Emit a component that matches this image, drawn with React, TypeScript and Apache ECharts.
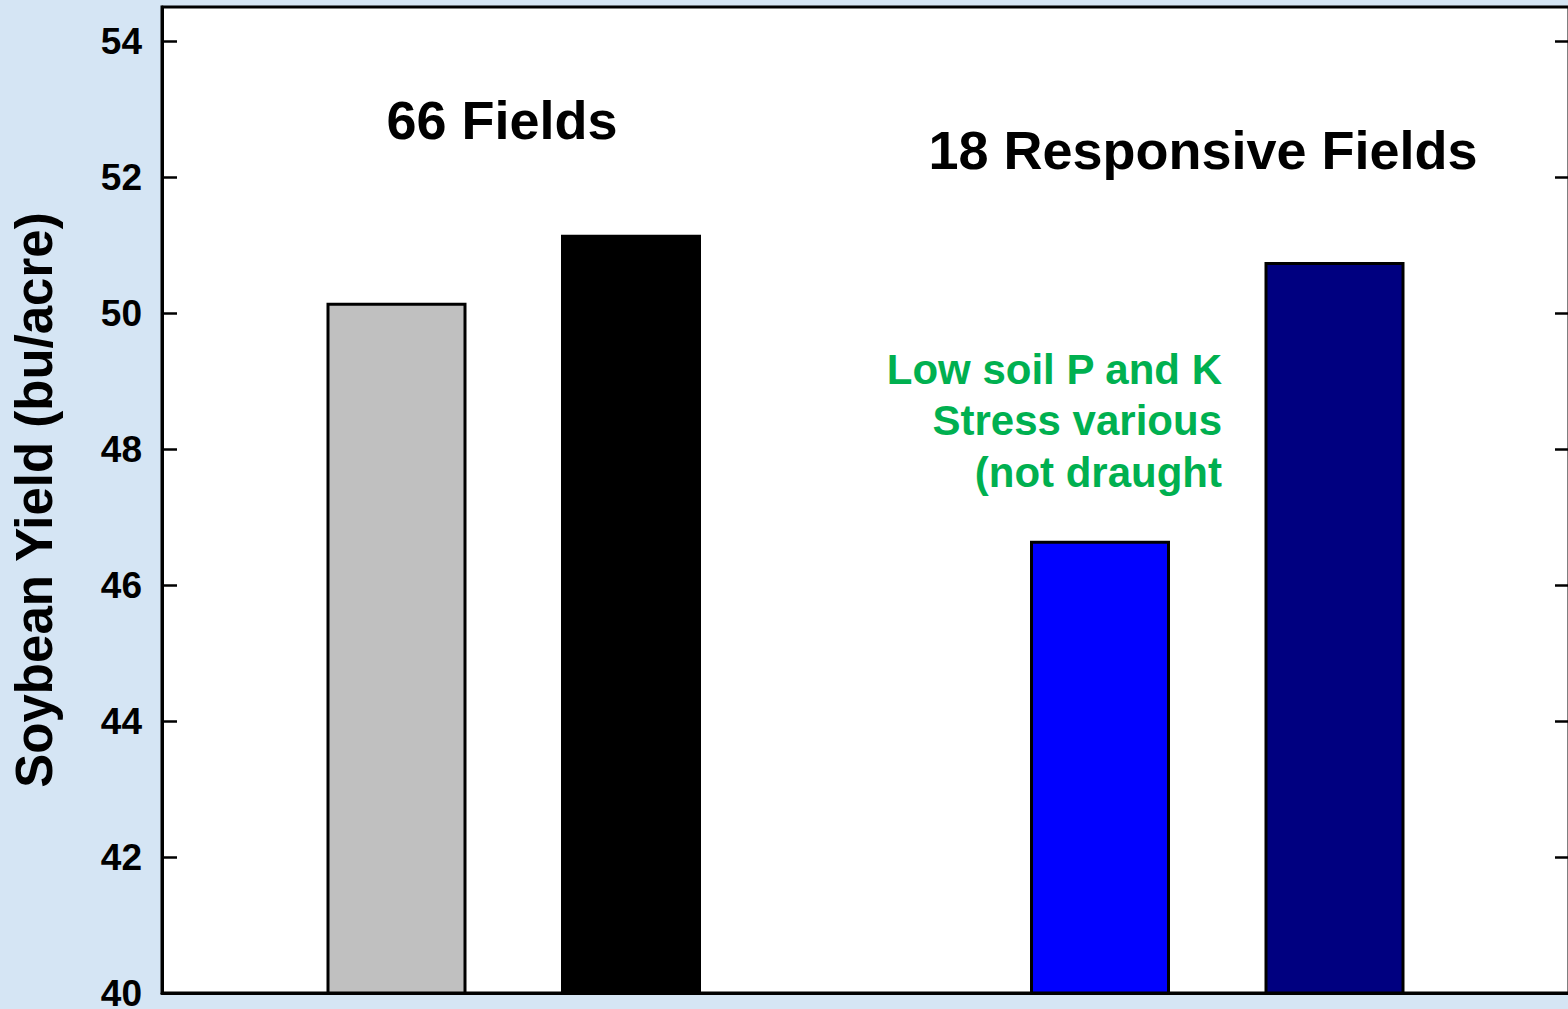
import React, { useEffect, useRef } from "react";
import * as echarts from "echarts";

const barPositions = [1, 2, 4, 5];
const barValues = [50.15, 51.15, 46.65, 50.75];
const barColors = ["#c0c0c0", "#000000", "#0000ff", "#000080"];
const yTicks = [40, 42, 44, 46, 48, 50, 52, 54];
const yAxisName = "Soybean Yield (bu/acre)";
const groupLabels = ["66 Fields", "18 Responsive Fields"];
const noteLines = ["Low soil P and K", "Stress various", "(not draught"];

const FONT = '"Liberation Sans", Arial, Helvetica, sans-serif';

export default function App() {
  const ref = useRef<HTMLDivElement>(null);
  useEffect(() => {
    document.body.style.margin = "0";
    const chart = echarts.init(ref.current!, null, { renderer: "svg" });
    const option: any = {
      animation: false,
      backgroundColor: "#d5e5f4",
      grid: {
        left: 162,
        top: 7,
        width: 1407,
        height: 986,
        containLabel: false,
        outerBoundsMode: "none",
        show: true,
        backgroundColor: "#ffffff",
        borderColor: "#000",
        borderWidth: 3,
      },
      xAxis: {
        type: "value",
        min: 0,
        max: 6,
        axisLine: { show: true, lineStyle: { color: "#000", width: 3 } },
        axisTick: { show: false },
        axisLabel: { show: false },
        splitLine: { show: false },
      },
      yAxis: [
        {
          type: "value",
          min: 40,
          max: 54.5,
          position: "left",
          name: yAxisName,
          nameLocation: "middle",
          nameGap: 102,
          nameTextStyle: { fontFamily: FONT, fontSize: 51, fontWeight: "bold", color: "#000" },
          axisLine: { show: true, lineStyle: { color: "#000", width: 3 } },
          axisTick: { show: true, inside: true, length: 15, lineStyle: { color: "#000", width: 2.5 }, customValues: yTicks },
          axisLabel: { fontFamily: FONT, fontSize: 37, fontWeight: "bold", color: "#000", margin: 20, customValues: yTicks },
          splitLine: { show: false },
        },
        {
          type: "value",
          min: 40,
          max: 54.5,
          position: "right",
          axisLine: { show: true, lineStyle: { color: "#000", width: 3 } },
          axisTick: { show: true, inside: true, length: 14, lineStyle: { color: "#000", width: 2.5 }, customValues: yTicks },
          axisLabel: { show: false },
          splitLine: { show: false },
        },
      ],
      series: [
        {
          type: "bar",
          barWidth: 140,
          data: barPositions.map((x, i) => ({
            value: [x, barValues[i]],
            itemStyle: { color: barColors[i], borderColor: "#000", borderWidth: 3 },
          })),
        },
      ],
      graphic: [
        {
          type: "text",
          x: 502,
          y: 120,
          style: {
            text: groupLabels[0],
            font: `bold 54px ${FONT}`,
            fill: "#000",
            textAlign: "center",
            textVerticalAlign: "middle",
          },
        },
        {
          type: "text",
          x: 1203,
          y: 150,
          style: {
            text: groupLabels[1],
            font: `bold 54px ${FONT}`,
            fill: "#000",
            textAlign: "center",
            textVerticalAlign: "middle",
          },
        },
        ...noteLines.map((t, i) => ({
          type: "text",
          x: 1222,
          y: 369 + i * 51.5,
          style: {
            text: t,
            font: `bold 42px ${FONT}`,
            fill: "#00b050",
            textAlign: "right",
            textVerticalAlign: "middle",
          },
        })),
      ],
    };
    chart.setOption(option);
    return () => chart.dispose();
  }, []);
  return <div ref={ref} style={{ width: 1568, height: 1009 }} />;
}
